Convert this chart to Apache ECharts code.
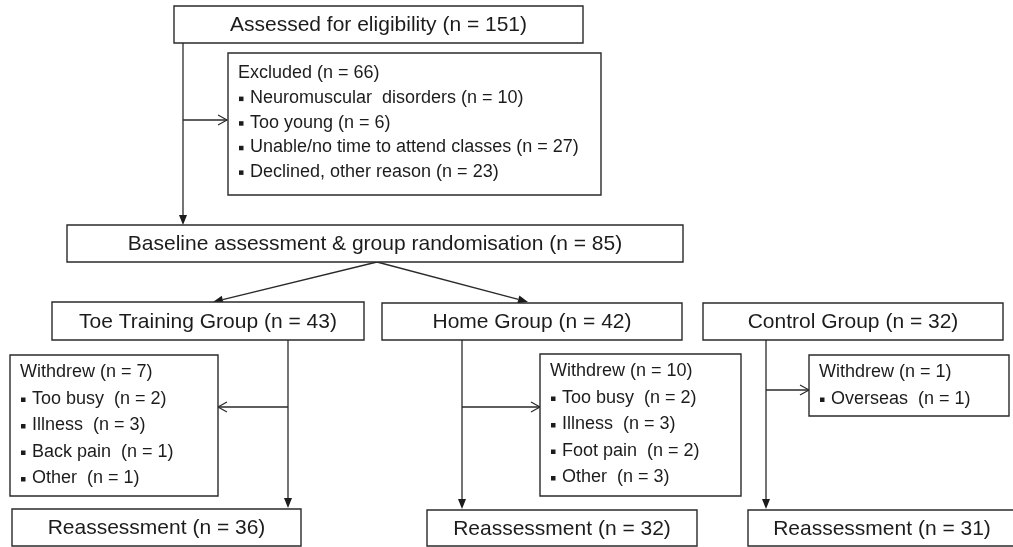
<!DOCTYPE html>
<html>
<head>
<meta charset="UTF-8">
<title>Flow of participants</title>
<script src="https://cdn.jsdelivr.net/npm/echarts@6/dist/echarts.min.js"></script>
<style>
  html, body { margin: 0; padding: 0; background: #fff; }
  #main { width: 1013px; height: 547px; }
</style>
</head>
<body>
<div id="main"></div>
<script>
// chart values
var stageNames = ['Assessed for eligibility', 'Baseline assessment & group randomisation'];
var stageCounts = [151, 85];
var excludedTotal = 66;
var excludedReasons = ['Neuromuscular  disorders', 'Too young', 'Unable/no time to attend classes', 'Declined, other reason'];
var excludedCounts = [10, 6, 27, 23];
var groupNames = ['Toe Training Group', 'Home Group', 'Control Group'];
var groupCounts = [43, 42, 32];
var withdrawTotals = [7, 10, 1];
var withdrawReasons = [
  ['Too busy', 'Illness', 'Back pain', 'Other'],
  ['Too busy', 'Illness', 'Foot pain', 'Other'],
  ['Overseas']
];
var withdrawCounts = [[2, 3, 1, 1], [2, 3, 2, 3], [1]];
var reassessCounts = [36, 32, 31];

// layout in axis units (x0, y0, x1, y1)
var assessRect = [174, 6, 583, 43];
var excludedRect = [228, 53, 601, 195];
var baselineRect = [67, 225, 683, 262];
var groupRects = [[52, 302, 364, 340], [382, 303, 682, 340], [703, 303, 1003, 340]];
var withdrawRects = [[10, 355, 218, 496], [540, 354, 741, 496], [809, 355, 1009, 416]];
var reassessRects = [[12, 509, 301, 546], [427, 510, 697, 546], [748, 510, 1016, 546]];
var groupLineX = [288, 462, 766];
var withdrawArrowY = [407, 407, 390];

function nText(n) { return '(n = ' + n + ')'; }

// boxes
var boxes = [];
boxes.push({ rect: assessRect, title: stageNames[0] + ' ' + nText(stageCounts[0]) });
boxes.push({
  rect: excludedRect, head: 'Excluded ' + nText(excludedTotal),
  items: excludedReasons.map(function (r, i) { return r + ' ' + nText(excludedCounts[i]); }),
  first: 20.5, gap: 24.6
});
boxes.push({ rect: baselineRect, title: stageNames[1] + ' ' + nText(stageCounts[1]) });
for (var g = 0; g < groupNames.length; g++) {
  boxes.push({ rect: groupRects[g], title: groupNames[g] + ' ' + nText(groupCounts[g]) });
  boxes.push({
    rect: withdrawRects[g], head: 'Withdrew ' + nText(withdrawTotals[g]),
    items: withdrawReasons[g].map(function (r, i) { return r + '  ' + nText(withdrawCounts[g][i]); }),
    first: 17.5, gap: 26.5
  });
  boxes.push({ rect: reassessRects[g], title: 'Reassessment ' + nText(reassessCounts[g]) });
}

// connectors [x0, y0, x1, y1, head]
var links = [];
links.push([183, 43, 183, 225, 'fill']);
links.push([183, 120, 227, 120, 'open']);
links.push([377, 262, 213, 302, 'fill']);
links.push([377, 262, 528, 302, 'fill']);
for (var k = 0; k < 3; k++) {
  links.push([groupLineX[k], groupRects[k][3], groupLineX[k], reassessRects[k][1] - 1, 'fill']);
  var wr = withdrawRects[k];
  var tx = groupLineX[k] > wr[2] ? wr[2] : wr[0];
  links.push([groupLineX[k], withdrawArrowY[k], tx, withdrawArrowY[k], 'open']);
}

var FONT = '"Liberation Sans", Arial, Helvetica, sans-serif';
var INK = '#1c1c1c';

function renderBox(params, api) {
  var b = boxes[params.dataIndex];
  var p0 = api.coord([b.rect[0], b.rect[1]]);
  var p1 = api.coord([b.rect[2], b.rect[3]]);
  var children = [{
    type: 'rect',
    shape: { x: p0[0], y: p0[1], width: p1[0] - p0[0], height: p1[1] - p0[1] },
    style: { fill: '#fff', stroke: '#2a2a2a', lineWidth: 1.4 }
  }];
  if (b.title) {
    children.push({
      type: 'text',
      style: {
        text: b.title, x: (p0[0] + p1[0]) / 2, y: (p0[1] + p1[1]) / 2 + 1,
        align: 'center', verticalAlign: 'middle',
        fontFamily: FONT, fontSize: 21, fill: INK
      }
    });
  } else {
    var top = api.coord([b.rect[0], b.rect[1] + b.first]);
    children.push({
      type: 'text',
      style: {
        text: b.head, x: p0[0] + 10, y: top[1],
        align: 'left', verticalAlign: 'middle',
        fontFamily: FONT, fontSize: 18, fill: INK
      }
    });
    for (var i = 0; i < b.items.length; i++) {
      var ly = api.coord([b.rect[0], b.rect[1] + b.first + b.gap * (i + 1)])[1];
      children.push({
        type: 'rect',
        shape: { x: p0[0] + 11, y: ly - 1.5, width: 4.5, height: 4.5 },
        style: { fill: INK }
      });
      children.push({
        type: 'text',
        style: {
          text: b.items[i], x: p0[0] + 22, y: ly,
          align: 'left', verticalAlign: 'middle',
          fontFamily: FONT, fontSize: 18, fill: INK
        }
      });
    }
  }
  return { type: 'group', children: children };
}

function renderLink(params, api) {
  var l = links[params.dataIndex];
  var a = api.coord([l[0], l[1]]);
  var b = api.coord([l[2], l[3]]);
  var dx = b[0] - a[0], dy = b[1] - a[1];
  var len = Math.sqrt(dx * dx + dy * dy);
  var ux = dx / len, uy = dy / len;
  var nx = -uy, ny = ux;
  var children = [];
  if (l[4] === 'fill') {
    var hl = 10, hw = 4;
    var bx = b[0] - ux * hl, by = b[1] - uy * hl;
    children.push({
      type: 'line',
      shape: { x1: a[0], y1: a[1], x2: bx, y2: by },
      style: { stroke: '#2a2a2a', lineWidth: 1.3 }
    });
    children.push({
      type: 'polygon',
      shape: { points: [[b[0], b[1]], [bx + nx * hw, by + ny * hw], [bx - nx * hw, by - ny * hw]] },
      style: { fill: '#1c1c1c' }
    });
  } else {
    var ol = 9, ow = 5;
    var cx = b[0] - ux * ol, cy = b[1] - uy * ol;
    children.push({
      type: 'line',
      shape: { x1: a[0], y1: a[1], x2: b[0], y2: b[1] },
      style: { stroke: '#2a2a2a', lineWidth: 1.3 }
    });
    children.push({
      type: 'polyline',
      shape: { points: [[cx + nx * ow, cy + ny * ow], [b[0], b[1]], [cx - nx * ow, cy - ny * ow]] },
      style: { stroke: '#2a2a2a', lineWidth: 1.2, fill: null }
    });
  }
  return { type: 'group', children: children };
}

var myChart = echarts.init(document.getElementById('main'), null, { renderer: 'canvas' });
var option = {
  backgroundColor: '#fff',
  animation: false,
  grid: { left: 0, right: 0, top: 0, bottom: 0 },
  xAxis: { type: 'value', min: 0, max: 1013, show: false },
  yAxis: { type: 'value', min: 0, max: 547, inverse: true, show: false },
  series: [{
    type: 'custom',
    name: 'links',
    renderItem: renderLink,
    clip: false,
    silent: true,
    z: 1,
    data: links.map(function (l, i) { return [l[0], l[1], i]; })
  }, {
    type: 'custom',
    name: 'boxes',
    renderItem: renderBox,
    clip: false,
    silent: true,
    z: 2,
    data: boxes.map(function (b, i) { return [b.rect[0], b.rect[1], i]; })
  }]
};
myChart.setOption(option);
</script>
</body>
</html>
